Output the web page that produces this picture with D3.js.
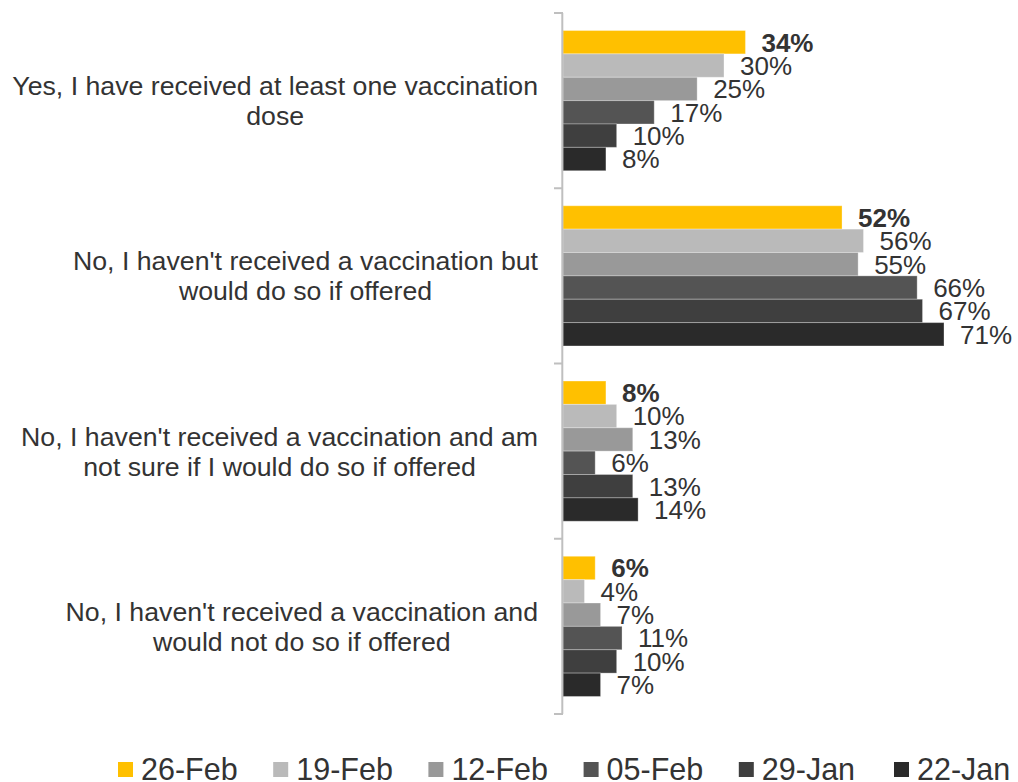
<!DOCTYPE html>
<html>
<head>
<meta charset="utf-8">
<script src="https://cdn.jsdelivr.net/npm/d3@7"></script>
<style>
  html, body { margin: 0; padding: 0; background: #ffffff; }
  svg { display: block; font-family: "Liberation Sans", Arial, sans-serif; }
</style>
</head>
<body>
<svg id="chart" width="1018" height="782"></svg>
<script>
// Survey answers (category axis), one line per array entry
const categories = [
  ["Yes, I have received at least one vaccination", "dose"],
  ["No, I haven't received a vaccination but", "would do so if offered"],
  ["No, I haven't received a vaccination and am", "not sure if I would do so if offered"],
  ["No, I haven't received a vaccination and", "would not do so if offered"]
];

// Survey waves, most recent first
const seriesNames = ["26-Feb", "19-Feb", "12-Feb", "05-Feb", "29-Jan", "22-Jan"];
const seriesColors = ["#FFC000", "#BABABA", "#999999", "#545454", "#3F3F3F", "#2A2A2A"];

// Percentages per wave, in category order
const feb26 = [34, 52, 8, 6];
const feb19 = [30, 56, 10, 4];
const feb12 = [25, 55, 13, 7];
const feb05 = [17, 66, 6, 11];
const jan29 = [10, 67, 13, 10];
const jan22 = [8, 71, 14, 7];
const seriesValues = [feb26, feb19, feb12, feb05, jan29, jan22];

const svg = d3.select("#chart");
const textColor = "#333333";
const axisColor = "#BFBFBF";

const plotLeft = 563, plotTop = 13, plotBottom = 714;

const x = d3.scaleLinear().domain([0, 80]).range([plotLeft, plotLeft + 80 * 5.366]);

const y = d3.scaleBand()
  .domain(d3.range(categories.length))
  .range([plotTop, plotBottom])
  .paddingInner(0.2)
  .paddingOuter(0.1);

const ySub = d3.scaleBand()
  .domain(d3.range(seriesNames.length))
  .range([0, y.bandwidth()]);

// Bars and value labels
const groups = svg.append("g").selectAll("g")
  .data(categories)
  .join("g")
  .attr("transform", (d, i) => `translate(0,${y(i)})`);

groups.each(function (cat, ci) {
  const g = d3.select(this);
  const rows = seriesNames.map((s, si) => ({ si, v: seriesValues[si][ci] }));
  g.selectAll("rect")
    .data(rows)
    .join("rect")
    .attr("x", x(0))
    .attr("y", d => ySub(d.si))
    .attr("width", d => x(d.v) - x(0))
    .attr("height", ySub.bandwidth())
    .attr("fill", d => seriesColors[d.si])
    .attr("stroke", "rgba(255,255,255,0.3)")
    .attr("stroke-width", 1);

  g.selectAll("text.val")
    .data(rows)
    .join("text")
    .attr("class", "val")
    .attr("x", d => x(d.v) + 16)
    .attr("y", d => ySub(d.si) + ySub.bandwidth() / 2)
    .attr("dy", "0.36em")
    .attr("font-size", "26px")
    .attr("font-weight", d => d.si === 0 ? "bold" : "normal")
    .attr("fill", textColor)
    .text(d => d.v + "%");
});

// Category axis: vertical line with ticks at band boundaries
const axisG = svg.append("g");
axisG.append("line")
  .attr("x1", 562.3).attr("x2", 562.3)
  .attr("y1", plotTop).attr("y2", plotBottom)
  .attr("stroke", axisColor).attr("stroke-width", 2);

const boundaries = d3.range(categories.length + 1).map(i => plotTop + i * (plotBottom - plotTop) / categories.length);
axisG.selectAll("line.tick")
  .data(boundaries)
  .join("line")
  .attr("class", "tick")
  .attr("x1", 554).attr("x2", 563)
  .attr("y1", d => d).attr("y2", d => d)
  .attr("stroke", axisColor).attr("stroke-width", 2);

// Category labels: block right edge at the axis gap, lines centred within the block
const lineH = 30;
const labelRight = 538;
const labelG = svg.append("g");
categories.forEach((lines, i) => {
  const cy = y(i) + y.bandwidth() / 2;
  const t = labelG.append("text")
    .attr("text-anchor", "middle")
    .attr("font-size", "26.7px")
    .attr("fill", textColor);
  const spans = lines.map((ln, li) => t.append("tspan")
    .attr("y", cy + (li - (lines.length - 1) / 2) * lineH)
    .attr("dy", "0.36em")
    .text(ln));
  const maxW = d3.max(spans, s => s.node().getComputedTextLength());
  spans.forEach(s => s.attr("x", labelRight - maxW / 2));
});

// Legend
const legendX = d3.scalePoint().domain(d3.range(seriesNames.length)).range([118, 894]);
const legend = svg.append("g").selectAll("g")
  .data(seriesNames)
  .join("g")
  .attr("transform", (d, i) => `translate(${legendX(i)},0)`);
legend.append("rect")
  .attr("x", 0).attr("y", 762)
  .attr("width", 15).attr("height", 15)
  .attr("fill", (d, i) => seriesColors[i]);
legend.append("text")
  .attr("x", 23).attr("y", 779.5)
  .attr("font-size", "30.5px")
  .attr("fill", textColor)
  .text(d => d);
</script>
</body>
</html>
